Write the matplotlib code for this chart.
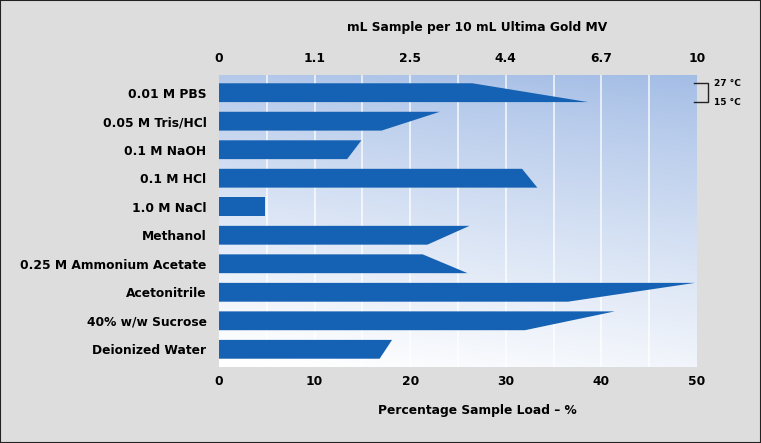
import numpy as np
import matplotlib.pyplot as plt
from matplotlib.patches import Polygon, Rectangle

# data (percentage sample load)
samples = ['0.01 M PBS', '0.05 M Tris/HCl', '0.1 M NaOH', '0.1 M HCl', '1.0 M NaCl',
           'Methanol', '0.25 M Ammonium Acetate', 'Acetonitrile', '40% w/w Sucrose',
           'Deionized Water']
load_27c = [26.5, 23.1, 14.9, 31.7, 4.8, 26.2, 21.3, 49.8, 41.4, 18.1]
load_15c = [38.6, 17.0, 13.4, 33.3, 4.8, 21.8, 26.0, 36.5, 32.0, 16.8]
pct_ticks = [0, 10, 20, 30, 40, 50]
ml_labels = ['0', '1.1', '2.5', '4.4', '6.7', '10']

bar_color = '#1561b3'
font = dict(family='DejaVu Sans', weight='bold', size=8.8)

fig = plt.figure(figsize=(7.61, 4.43), dpi=100)
fig.patch.set_facecolor('#dddddd')
fig.patches.append(Rectangle((0, 0), 1, 1, transform=fig.transFigure, fill=False,
                             edgecolor='#222222', linewidth=1.5))

ax = fig.add_axes([0.2878, 0.1716, 0.6281, 0.6591])
ax.set_xlim(0, 50)
ax.set_ylim(9.62, -0.62)

# background gradient: light blue at top fading to white, a bit deeper on the right
gy = np.linspace(0, 1, 200).reshape(-1, 1)
gx = np.linspace(0, 1, 300).reshape(1, -1)
t = np.clip(gy ** 0.85 * 0.85 + (1 - gx) * 0.18, 0, 1)
top = np.array([0.64, 0.74, 0.90])
img = top + (1 - top) * t[..., None]
ax.imshow(img, extent=[0, 50, 9.62, -0.62], aspect='auto', zorder=0)

# white gridlines every 5 %
for v in range(5, 50, 5):
    ax.axvline(v, color='white', linewidth=1.3, alpha=0.75, zorder=1)

h = 0.66
for i in range(len(samples)):
    y0, y1 = i - h / 2, i + h / 2
    poly = Polygon([(0, y0), (load_27c[i], y0), (load_15c[i], y1), (0, y1)],
                   closed=True, facecolor=bar_color, edgecolor='none', zorder=2)
    ax.add_patch(poly)

ax.set_yticks(range(len(samples)))
ax.set_yticklabels(samples, fontdict=font)
ax.set_xticks(pct_ticks)
ax.set_xticklabels([str(v) for v in pct_ticks], fontdict=font)
ax.tick_params(length=0, pad=6)
ax.tick_params(axis='y', pad=9)
ax.set_xlabel('Percentage Sample Load \u2013 %', fontdict=font, labelpad=11, x=0.54)
for s in ax.spines.values():
    s.set_visible(False)

ax2 = ax.twiny()
ax2.set_xlim(0, 50)
ax2.set_xticks(pct_ticks)
ax2.set_xticklabels(ml_labels, fontdict=font)
ax2.tick_params(length=0, pad=7)
ax2.set_xlabel('mL Sample per 10 mL Ultima Gold MV', fontdict=font, labelpad=15, x=0.54)
for s in ax2.spines.values():
    s.set_visible(False)

# temperature bracket
bx0, bx1 = 49.7, 51.2
ax.plot([bx0, bx1, bx1, bx0], [-h / 2, -h / 2, h / 2, h / 2], color='#222222',
        linewidth=1.0, clip_on=False, zorder=3)
small = dict(font, size=6.5)
ax.text(51.8, -h / 2 + 0.02, '27 \u00b0C', fontdict=small, va='center', ha='left')
ax.text(51.8, h / 2 + 0.02, '15 \u00b0C', fontdict=small, va='center', ha='left')

fig.savefig('out.png', dpi=100, facecolor=fig.get_facecolor())
